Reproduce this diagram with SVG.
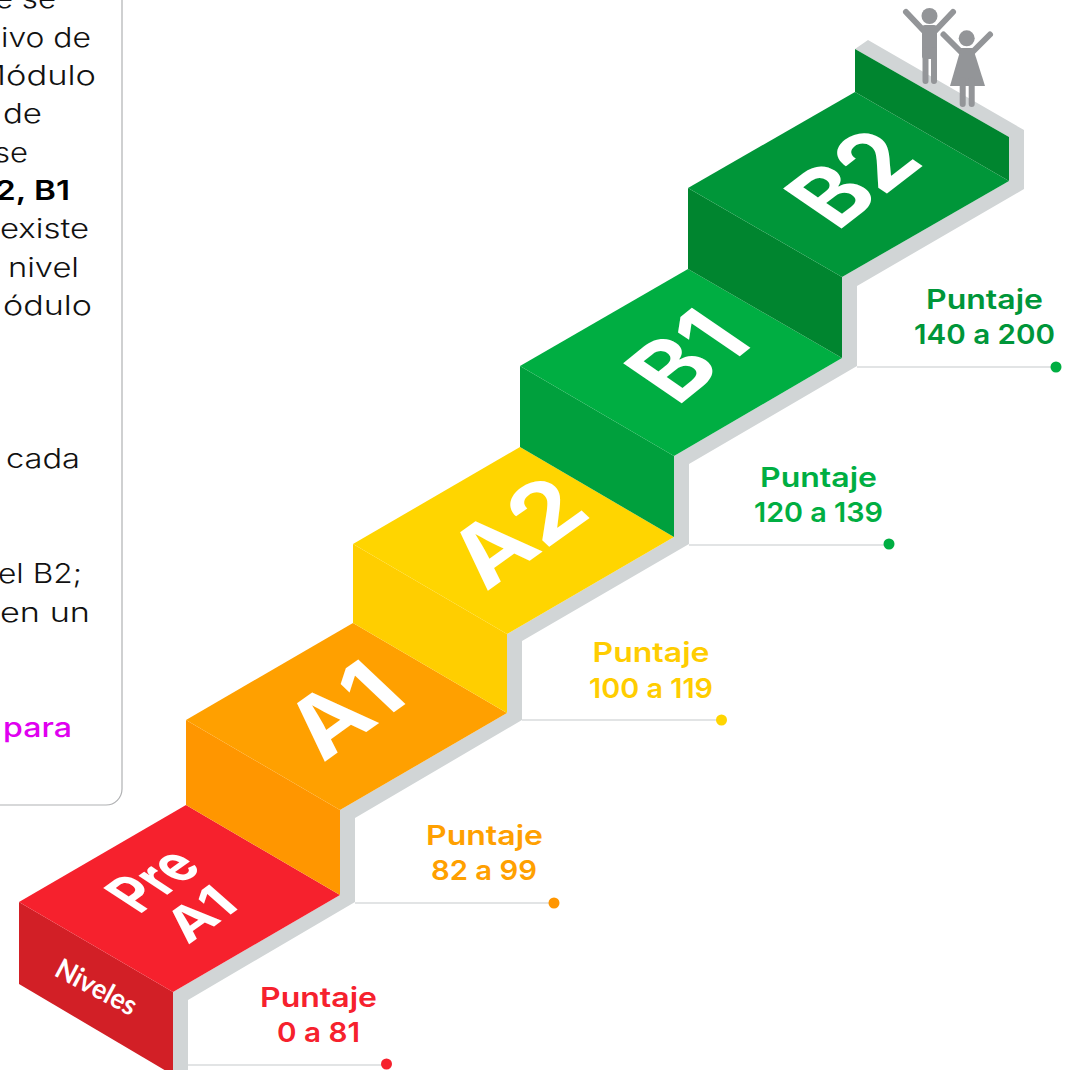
<svg xmlns="http://www.w3.org/2000/svg" width="1070" height="1070" viewBox="0 0 1070 1070">
<style>
.t{font-family:Inter,"Noto Sans",sans-serif;font-size:27px;font-weight:300;fill:#111}
.p{font-family:Inter,"Noto Sans",sans-serif;font-size:27.5px;font-weight:600;text-anchor:middle}
.s{font-family:Inter,"Noto Sans",sans-serif;font-weight:700;fill:#fff;font-size:90px}
.l{stroke:#d9dbdc;stroke-width:1.6;fill:none}
.g{fill:#939598}
.a{stroke:#939598;stroke-width:6;stroke-linecap:round;fill:none}
</style>
<rect width="1070" height="1070" fill="#fff"/>
<g id="panel">
<rect x="-30" y="-30" width="152" height="835" rx="16" fill="#fff" stroke="#b0b1b3" stroke-width="1.2"/>
<text class="t" x="-5" y="8" textLength="61" lengthAdjust="spacingAndGlyphs">e se</text>
<text class="t" x="1" y="47" textLength="90" lengthAdjust="spacingAndGlyphs">ivo de</text>
<text class="t" x="-25" y="85" textLength="121" lengthAdjust="spacingAndGlyphs">Módulo</text>
<text class="t" x="3" y="123" textLength="39" lengthAdjust="spacingAndGlyphs">de</text>
<text class="t" x="-6" y="162" textLength="34" lengthAdjust="spacingAndGlyphs">se</text>
<text class="t" x="-5" y="200" textLength="75" lengthAdjust="spacingAndGlyphs" style="font-weight:600;fill:#000">2, B1</text>
<text class="t" x="0" y="238" textLength="89" lengthAdjust="spacingAndGlyphs">existe</text>
<text class="t" x="8" y="277" textLength="71" lengthAdjust="spacingAndGlyphs">nivel</text>
<text class="t" x="3" y="315" textLength="89" lengthAdjust="spacingAndGlyphs">ódulo</text>
<text class="t" x="6" y="468" textLength="74" lengthAdjust="spacingAndGlyphs">cada</text>
<text class="t" x="-2" y="583" textLength="84" lengthAdjust="spacingAndGlyphs">el B2;</text>
<text class="t" x="0" y="622" textLength="90" lengthAdjust="spacingAndGlyphs">en un</text>
<text class="t" x="3" y="737" textLength="69" lengthAdjust="spacingAndGlyphs" style="font-weight:500;fill:#e000f0">para</text>
</g>
<g id="frame">
<polygon fill="#d1d5d6" points="173,992 340,895 340,810 507,713 507,634 674,537 674,456 842,358 842,277 1009,181 1009,137 855,49 868,40 1024,130 1024,189 857,286 857,366 689,464 689,544 522,641 522,720 355,818 355,902 188,1000 188,1075 173,1075"/>
</g>
<g id="connectors">
<path class="l" d="M188 1065H386"/>
<path class="l" d="M355 903H554"/>
<path class="l" d="M522 720H721"/>
<path class="l" d="M689 545H889"/>
<path class="l" d="M857 367H1056"/>
<circle cx="386.500" cy="1064" r="5.500" fill="#f6212d"/>
<circle cx="554" cy="903" r="5.500" fill="#ff9600"/>
<circle cx="721.500" cy="720" r="5.500" fill="#ffd500"/>
<circle cx="889" cy="544" r="5.500" fill="#00ae42"/>
<circle cx="1056" cy="367" r="5.500" fill="#00ae42"/>
</g>
<g id="step-preA1">
<polygon fill="#d21f26" points="19,902 173,992 173,1075 19,984"/>
<polygon fill="#f6212d" points="186,805 19,902 173,992 340,895"/>
<text transform="matrix(.81,-.58,.85,.56,139,915)" class="s" style="font-size:62px" textLength="80" lengthAdjust="spacingAndGlyphs">Pre</text>
<text transform="matrix(.81,-.58,.75,.66,188,945)" class="s" style="font-size:52px" textLength="65" lengthAdjust="spacingAndGlyphs">A1</text>
<text transform="translate(53,975) rotate(28)" style="font-family:Lato,sans-serif;font-size:28px;font-weight:700;fill:#fff" textLength="88" lengthAdjust="spacingAndGlyphs">Niveles</text>
<text class="p" x="318.500" y="1006.500" fill="#f6212d" textLength="117" lengthAdjust="spacingAndGlyphs">Puntaje</text>
<text class="p" x="318.500" y="1041.500" fill="#f6212d" textLength="83" lengthAdjust="spacingAndGlyphs">0 a 81</text>
</g>
<g id="step-A1">
<polygon fill="#ff9600" points="186,720 186,805 340,895 340,810"/>
<polygon fill="#ffa000" points="353,623 186,720 340,810 507,713"/>
<text transform="matrix(.81,-.58,.72,.68,323,763)" class="s" textLength="108" lengthAdjust="spacingAndGlyphs">A1</text>
<text class="p" x="484.500" y="844.500" fill="#ffa000" textLength="117" lengthAdjust="spacingAndGlyphs">Puntaje</text>
<text class="p" x="484" y="879.500" fill="#ffa000" textLength="106" lengthAdjust="spacingAndGlyphs">82 a 99</text>
</g>
<g id="step-A2">
<polygon fill="#ffce00" points="353,544 353,623 507,713 507,634"/>
<polygon fill="#ffd500" points="520,447 353,544 507,634 674,537"/>
<text transform="matrix(.81,-.58,.72,.68,486,592)" class="s" textLength="133" lengthAdjust="spacingAndGlyphs">A2</text>
<text class="p" x="651" y="661.500" fill="#ffcd00" textLength="117" lengthAdjust="spacingAndGlyphs">Puntaje</text>
<text class="p" x="651" y="697.500" fill="#ffcd00" textLength="124" lengthAdjust="spacingAndGlyphs">100 a 119</text>
</g>
<g id="step-B1">
<polygon fill="#00a03d" points="520,366 520,447 674,537 674,456"/>
<polygon fill="#00ae42" points="688,269 520,366 674,456 842,358"/>
<text transform="matrix(.78,-.63,.82,.56,677,407)" class="s" style="font-size:98px" textLength="100" lengthAdjust="spacingAndGlyphs">B1</text>
<text class="p" x="818.500" y="486.500" fill="#00ae42" textLength="117" lengthAdjust="spacingAndGlyphs">Puntaje</text>
<text class="p" x="818.500" y="521.500" fill="#00ae42" textLength="129" lengthAdjust="spacingAndGlyphs">120 a 139</text>
</g>
<g id="step-B2">
<polygon fill="#00852f" points="688,188 688,269 842,358 842,277"/>
<polygon fill="#009639" points="855,92 688,188 842,277 1009,181"/>
<polygon fill="#00852f" points="855,49 855,92 1009,181 1009,137"/>
<text transform="matrix(.79,-.61,.82,.56,837,232)" class="s" style="font-size:98px" textLength="113" lengthAdjust="spacingAndGlyphs">B2</text>
<text class="p" x="984.500" y="308.500" fill="#009639" textLength="117" lengthAdjust="spacingAndGlyphs">Puntaje</text>
<text class="p" x="984.500" y="343.500" fill="#009639" textLength="141" lengthAdjust="spacingAndGlyphs">140 a 200</text>
</g>
<g id="people">
<circle class="g" cx="929.500" cy="16" r="8"/>
<path class="a" d="M906 12L924 31M953 12L935 31"/>
<rect class="g" x="922" y="25" width="15" height="34" rx="3"/>
<path class="a" d="M925.500 50V81M934 50V81"/>
<circle class="g" cx="966.700" cy="38.300" r="8"/>
<path class="a" d="M943.500 34.500L961 52M990 34.500L972.500 52"/>
<polygon class="g" points="961,48 973,48 985,86 950,86"/>
<path class="a" d="M962.700 80V104M971.700 80V104"/>
</g>
</svg>
